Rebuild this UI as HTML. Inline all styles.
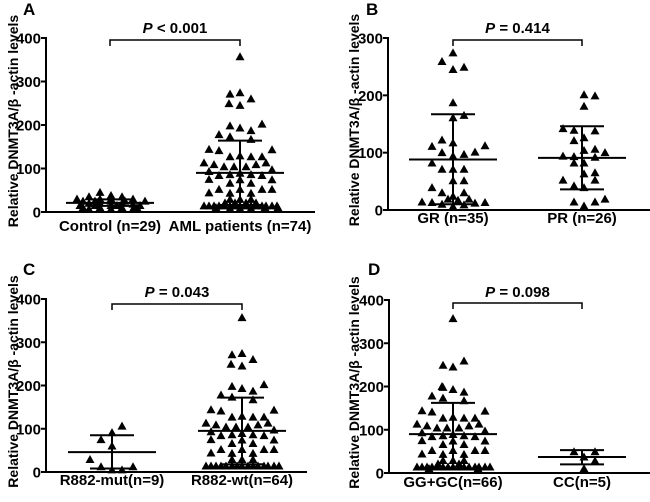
<!DOCTYPE html>
<html><head><meta charset="utf-8">
<style>
html,body{margin:0;padding:0;background:#fff;}
svg{display:block;font-family:"Liberation Sans",Arial,sans-serif;font-weight:bold;}
</style></head>
<body>
<svg id="fig" width="650" height="502" viewBox="0 0 650 502" xmlns="http://www.w3.org/2000/svg"></svg>
<script>
// ---- Panel A data ----
const aCategories = ["Control (n=29)", "AML patients (n=74)"];
const aControlValues = [45,38,35,35,30,30,30,30,25,25,25,25,25,20,20,20,18,15,15,15,15,15,10,10,10,10,7,7,7];
const aControlJitter = [-10,1,-21,12,-33,-10,1,23,-27,-15,1,15,35,-21,-10,12,23,-30,-15,1,7,30,-27,-10,12,27,-21,1,23];
const aAmlValues = [357,274,271,260,249,245,198,187,202,193,178,173,167,144,141,143,129,127,127,127,113,109,104,104,104,109,113,97,93,84,86,89,86,84,75,74,74,66,66,52,52,52,52,44,43,43,29,29,29,14,14,14,14,14,14,14,14,14,14,14,14,14,14,14,8,8,8,21,21,21,21,10,10,10];
const aAmlJitter = [0,0,-10,11,-11,0,-10,11,22,0,-21,-10,11,-31,-21,32,0,-10,11,22,-36,-26,-16,-6,6,16,26,32,-31,-21,-10,0,11,22,-31,0,32,-10,11,-21,0,22,32,-31,-10,11,-10,0,11,-36,-31,-26,-21,-16,-10,-5,0,6,11,16,22,26,32,37,-10,0,11,-15,-5,6,16,-24,25,38];
const aMedian = [21, 90], aUpper = [29, 164], aLower = [14, 16];
// ---- Panel B data ----
const bCategories = ["GR (n=35)", "PR (n=26)"];
const bGrValues = [274,259,249,245,187,165,161,122,111,112,117,100,101,97,94,82,71,71,71,51,51,39,30,30,24,14,13,10,19,17,19,12,13,6,9];
const bGrJitter = [0,-11,11,0,0,11,0,-11,-21,32,0,-11,22,11,0,-21,-11,11,0,0,11,-21,-11,11,0,-31,-21,-11,-5,5,16,22,32,0,11];
const bPrValues = [201,199,181,142,139,126,121,138,104,106,100,94,93,92,82,82,65,52,52,42,39,19,14,14,7,63];
const bPrJitter = [2,13,2,-19,-8,2,-8,13,2,13,23,-19,-8,13,-8,2,13,-19,13,-8,2,23,-8,13,2,2];
const bMedian = [88, 91], bUpper = [167, 146], bLower = [10, 36];
// ---- Panel C data ----
const cCategories = ["R882-mut(n=9)", "R882-wt(n=64)"];
const cMutValues = [106,91,75,60,29,12,12,5,5];
const cMutJitter = [10,0,-11,0,-22,-11,21,0,10];
const cWtValues = [357,274,271,260,249,245,198,187,202,193,178,173,167,144,141,143,129,127,127,127,113,109,104,104,104,109,113,97,93,84,86,89,86,84,75,74,74,66,66,52,52,52,52,44,43,43,29,29,29,14,14,14,14,14,14,14,14,14,14,14,14,14,14,14];
const cWtJitter = [0,0,-10,11,-11,0,-10,11,22,0,-21,-10,11,-31,-21,32,0,-10,11,22,-36,-26,-16,-6,6,16,26,32,-31,-21,-10,0,11,22,-31,0,32,-10,11,-21,0,22,32,-31,-10,11,-10,0,11,-36,-31,-26,-21,-16,-10,-5,0,6,11,16,22,26,32,37];
const cMedian = [46, 95], cUpper = [85, 172], cLower = [8, 18];
// ---- Panel D data ----
const dCategories = ["GG+GC(n=66)", "CC(n=5)"];
const dGgValues = [357,259,249,245,198,187,200,193,178,173,167,144,141,143,129,127,127,127,113,109,104,104,104,109,113,97,93,84,86,89,86,84,75,74,74,66,66,52,52,52,52,44,43,43,29,29,29,14,14,14,14,14,14,14,14,14,14,14,14,14,14,14,21,21,10,10];
const dGgJitter = [0,11,-10,0,-10,11,-11,0,-21,-10,11,-31,-21,32,0,-10,11,22,-36,-26,-16,-6,6,16,26,32,-31,-21,-10,0,11,22,-31,0,32,-10,11,-21,0,22,32,-31,-10,11,-10,0,11,-36,-31,-26,-21,-16,-10,-5,0,6,11,16,22,26,32,37,-15,6,-24,25];
const dCcValues = [49,49,28,37,10];
const dCcJitter = [-8,13,13,2,2];
const dMedian = [90, 37], dUpper = [162, 53], dLower = [10, 20];

const yTicksA = [0,100,200,300,400];
const yTicksB = [0,100,200,300];
const pLabels = ["< 0.001", "= 0.414", "= 0.043", "= 0.098"];
const panelLetters = ["A","B","C","D"];

const NS = "http://www.w3.org/2000/svg";
const svg = document.getElementById("fig");
function mk(tag, attrs, parent){ const e=document.createElementNS(NS,tag); for(const k in attrs) e.setAttribute(k,attrs[k]); (parent||svg).appendChild(e); return e; }

const panels = [
  {key:"a", ax:46, y0:212, yTop:38, ymax:400, ticks:yTicksA, xEnd:315, centers:[110,240], brY:40, letterX:23, letterY:15, titleX:13, catY:231, pY:33,
   groups:[[aControlValues,aControlJitter],[aAmlValues,aAmlJitter]], med:aMedian, up:aUpper, lo:aLower, cats:aCategories},
  {key:"b", ax:388, y0:210, yTop:38, ymax:300, ticks:yTicksB, xEnd:650, centers:[453,582], brY:40, letterX:366, letterY:15, titleX:354, catY:223, pY:33,
   groups:[[bGrValues,bGrJitter],[bPrValues,bPrJitter]], med:bMedian, up:bUpper, lo:bLower, cats:bCategories},
  {key:"c", ax:46, y0:472, yTop:299, ymax:400, ticks:yTicksA, xEnd:307, centers:[112,242], brY:304, letterX:23, letterY:275, titleX:13, catY:485, pY:297,
   groups:[[cMutValues,cMutJitter],[cWtValues,cWtJitter]], med:cMedian, up:cUpper, lo:cLower, cats:cCategories},
  {key:"d", ax:389, y0:473, yTop:300, ymax:400, ticks:yTicksA, xEnd:650, centers:[453,582], brY:303, letterX:368, letterY:275, titleX:354, catY:487, pY:297,
   groups:[[dGgValues,dGgJitter],[dCcValues,dCcJitter]], med:dMedian, up:dUpper, lo:dLower, cats:dCategories}
];

panels.forEach((p, pi) => {
  const g = mk("g", {});
  
  
  const y = v => p.y0 - (v / p.ymax) * (p.y0 - p.yTop);

  const letter = mk("text", {x:p.letterX, y:p.letterY, "font-size":17, fill:"#000"}, g);
  letter.textContent = panelLetters[pi];
  
  

  const midY = (p.y0 + p.yTop)/2 - 4;
  const title = mk("text", {x:p.titleX, y:midY, "font-size":14, "text-anchor":"middle", "dominant-baseline":"central", transform:`rotate(-90 ${p.titleX} ${midY})`}, g);
  title.textContent = "Relative DNMT3A/\u03b2 -actin levels";
  
  

  const yAxis = mk("line", {x1:p.ax, y1:p.yTop-1, x2:p.ax, y2:p.y0+1, stroke:"#000", "stroke-width":2}, g);
  
  
  const xAxis = mk("line", {x1:p.ax-1, y1:p.y0, x2:p.xEnd, y2:p.y0, stroke:"#000", "stroke-width":2}, g);
  
  

  p.ticks.forEach(t => {
    const tk = mk("line", {x1:p.ax-5, y1:y(t), x2:p.ax, y2:y(t), stroke:"#000", "stroke-width":2}, g);
    
    
    const tl = mk("text", {x:p.ax-5, y:y(t)+5.5, "font-size":15, "text-anchor":"end"}, g);
    tl.textContent = t;
    
    
  });

  p.cats.forEach((c, i) => {
    const cl = mk("text", {x:p.centers[i], y:p.catY, "font-size":15, "text-anchor":"middle"}, g);
    cl.textContent = c;
    
    
  });

  const [c0, c1] = p.centers;
  const br = mk("path", {d:`M${c0} ${p.brY+6} V${p.brY} H${c1} V${p.brY+6}`, fill:"none", stroke:"#000", "stroke-width":1.5}, g);
  
  
  const pt = mk("text", {x:(c0+c1)/2, y:p.pY, "font-size":15, "text-anchor":"middle"}, g);
  pt.innerHTML = `<tspan font-style="italic">P</tspan> ${pLabels[pi]}`;
  
  

  p.groups.forEach(([vals, jit], gi) => {
    const cx = p.centers[gi];
    vals.forEach((v, k) => {
      const px = cx + jit[k], py = y(v);
      const tri = mk("path", {d:`M${px} ${py-4.5} L${px+4.5} ${py+3.5} L${px-4.5} ${py+3.5} Z`, fill:"#000"}, g);
      
      
    });
    const m = mk("line", {x1:cx-44, x2:cx+44, y1:y(p.med[gi]), y2:y(p.med[gi]), stroke:"#000", "stroke-width":2}, g);
    
    
    [p.up[gi], p.lo[gi]].forEach(q => {
      const ql = mk("line", {x1:cx-22, x2:cx+22, y1:y(q), y2:y(q), stroke:"#000", "stroke-width":2}, g);
      
      
    });
    const vl = mk("line", {x1:cx, x2:cx, y1:y(p.up[gi]), y2:y(p.lo[gi]), stroke:"#000", "stroke-width":2}, g);
    
    
  });
});
</script>
</body></html>
